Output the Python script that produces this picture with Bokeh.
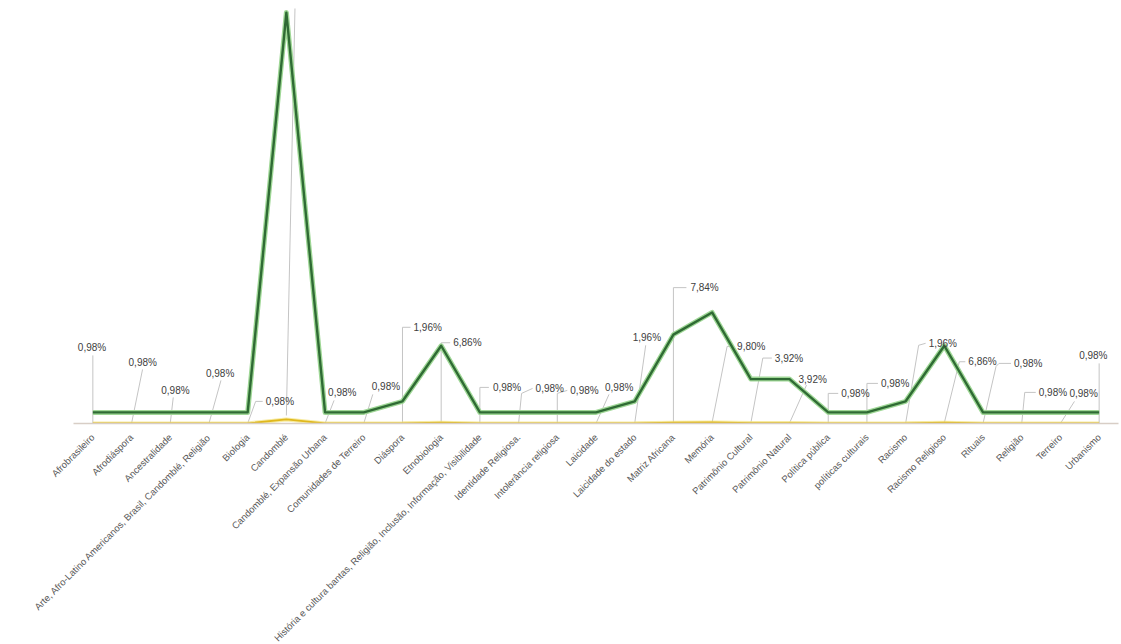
import math
from bokeh.plotting import figure
from bokeh.models import FactorRange, Range1d, ColumnDataSource
from bokeh.embed import file_html
from bokeh.resources import INLINE
from bokeh.core.properties import value

# ---------------- data ----------------
categories = [
    "Afrobrasileiro", "Afrodiáspora", "Ancestralidade",
    "Arte, Afro-Latino Americanos, Brasil, Candomblé, Religião",
    "Biologia", "Candomblé", "Candomblé, Expansão Urbana",
    "Comunidades de Terreiro", "Diáspora", "Etnobiologia",
    "História e cultura bantas, Religião, Inclusão, Informação, Visibilidade",
    "Identidade Religiosa.", "Intolerância religiosa", "Laicidade",
    "Laicidade do estado", "Matriz Africana", "Memória",
    "Patrimônio Cultural", "Patrimônio Natural", "Política pública",
    "políticas culturais", "Racismo", "Racismo Religioso", "Rituais",
    "Religião", "Terreiro", "Urbanismo",
]
frequency = [1, 1, 1, 1, 1, 37, 1, 1, 2, 7, 1, 1, 1, 1, 2, 8, 10, 4, 4,
             1, 1, 2, 7, 1, 1, 1, 1]
percent = [0.98, 0.98, 0.98, 0.98, 0.98, 36.27, 0.98, 0.98, 1.96, 6.86,
           0.98, 0.98, 0.98, 0.98, 1.96, 7.84, 9.80, 3.92, 3.92, 0.98,
           0.98, 1.96, 6.86, 0.98, 0.98, 0.98, 0.98]

# ---------------- layout / style ----------------
FW, FH = 1045, 415
N = len(categories)
Y_TOP = 37.37
PX_X = FW / N
PX_Y = FH / Y_TOP

# data-label placement (pixel offsets from each point) and leader lines
LABEL_OFFSETS = [(-15, -76), (-3, -61), (-9, -33), (-3, -50), (18, -22), None,
                 (3, -31), (8, -37), (11, -96), (12, -80), (13, -36), (17, -35),
                 (13, -33), (9, -36), (-2, -86), (17, -135), (25, -76), (24, -65),
                 (9, -44), (13, -30), (14, -40), (23, -80), (24, -61), (31, -60),
                 (17, -31), (9, -30), (-20, -68)]
LEADERS = [
    [(0, 0), (0, -68)],
    [(0, 0), (11, -54)],
    [(0, 0), (3, -26)],
    [(0, 0), (12, -43)],
    [(0, 0), (8, -22), (15, -22)],
    [(0, -4), (9, -430)],
    [(0, 0), (9, -23)],
    [(0, 0), (9, -29)],
    [(0, 0), (0, -96), (8, -96)],
    [(0, 0), (0, -80), (9, -80)],
    [(0, 0), (0, -36), (9, -36)],
    [(0, 0), (3, -30), (14, -35)],
    [(0, 0), (0, -30), (10, -33)],
    [(0, 0), (13, -29)],
    [(0, 0), (11, -78)],
    [(0, 0), (0, -135), (13, -135)],
    [(0, 0), (15, -76), (22, -76)],
    [(0, 0), (12, -65), (21, -65)],
    [(0, 0), (17, -38)],
    [(0, 0), (0, -30), (10, -30)],
    [(0, 0), (0, -40), (11, -40)],
    [(0, 0), (13, -78), (20, -80)],
    [(0, 0), (15, -61), (21, -61)],
    [(0, 0), (13, -57), (16, -60), (28, -60)],
    [(0, 0), (3, -31), (14, -31)],
    [(0, 0), (14, -22)],
    [(0, 0), (0, -60)],
]

share = [v / 100 for v in percent]

p = figure(x_range=FactorRange(*categories), y_range=Range1d(0, Y_TOP),
           frame_width=FW, frame_height=FH,
           output_backend="svg", toolbar_location=None,
           min_border_left=73, min_border_right=3, min_border_top=8,
           min_border_bottom=0, background_fill_color="white",
           border_fill_color="white")

# leader lines (numeric synthetic coordinates of the factor range)
lx, ly = [], []
for i, pts in enumerate(LEADERS):
    lx.append([i + 0.5 + dx / PX_X for dx, dy in pts])
    ly.append([share[i] - dy / PX_Y for dx, dy in pts])
p.multi_line(xs=lx, ys=ly, line_color="#c4c4c4", line_width=1)

# series
p.line(x=categories, y=frequency, line_color="#9fd796", line_width=5,
       line_join="round")
p.line(x=categories, y=frequency, line_color="#2f6b34", line_width=2.4,
       line_join="round")
p.line(x=categories, y=share, line_color="#f3e27a", line_width=4, line_alpha=0.7)
p.line(x=categories, y=share, line_color="#e0b81c", line_width=1.8)

# data labels
tx, ty, tt, tdx, tdy = [], [], [], [], []
for i, off in enumerate(LABEL_OFFSETS):
    if off is None:
        continue
    tx.append(i + 0.5)
    ty.append(share[i])
    tt.append(f"{percent[i]:.2f}".replace(".", ",") + "%")
    tdx.append(off[0])
    tdy.append(off[1])
src = ColumnDataSource(dict(x=tx, y=ty, t=tt, dx=tdx, dy=tdy))
p.text(x="x", y="y", text="t", x_offset="dx", y_offset="dy", source=src,
       text_font=value("Liberation Sans"), text_font_size="10px",
       text_color="#404040", text_baseline="middle", text_align="left")

# axes / grid
p.yaxis.visible = False
p.xgrid.visible = False
p.ygrid.visible = False
p.outline_line_color = None
ax = p.xaxis[0]
ax.major_label_orientation = math.pi / 4
ax.major_label_text_font = "Liberation Sans"
ax.major_label_text_font_size = "9.5px"
ax.major_label_text_color = "#595959"
ax.major_label_standoff = 6
ax.major_tick_line_color = None
ax.minor_tick_line_color = None
ax.axis_line_color = "#d8cec6"
ax.axis_line_width = 1.5

open("out.html", "w").write(file_html(p, INLINE))
